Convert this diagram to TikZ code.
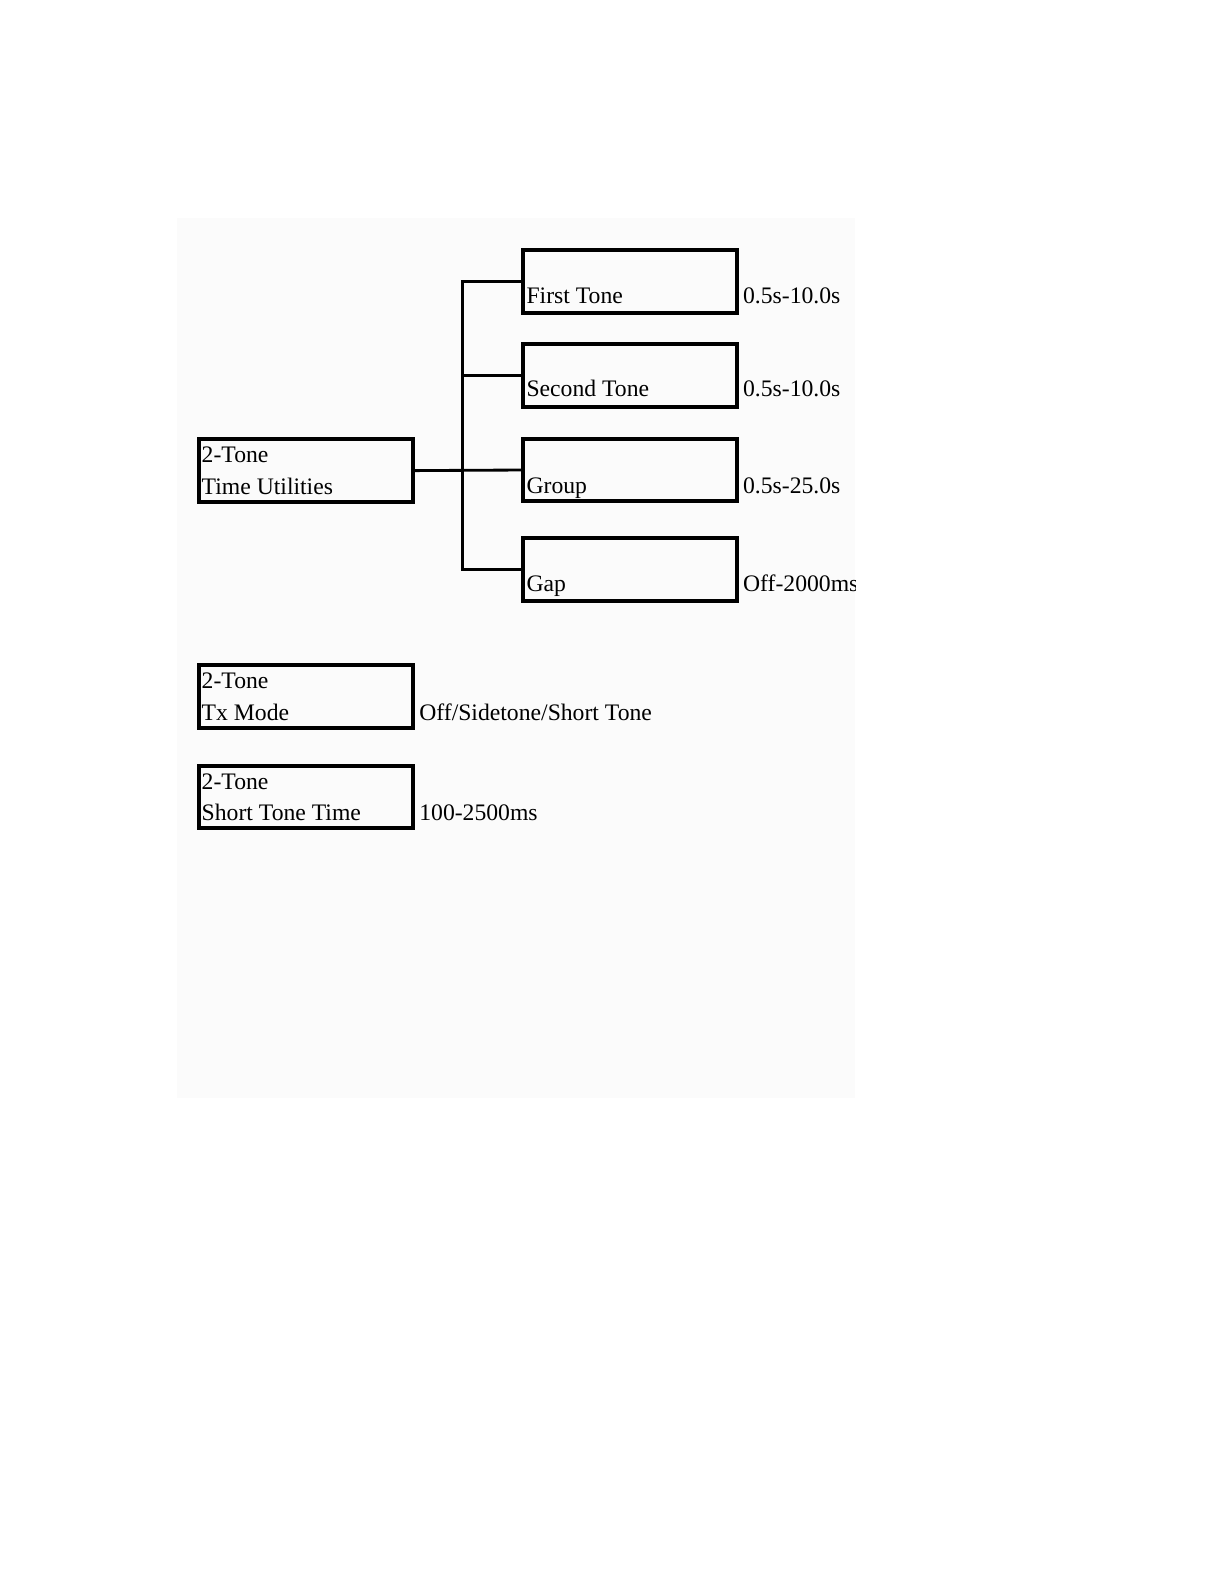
\documentclass[tikz,border=0pt]{standalone}
\usepackage{fontspec}
\setmainfont{Liberation Serif}
\usetikzlibrary{positioning}

\definecolor{panelgray}{HTML}{FBFBFB}

\tikzset{
    menubox/.style={draw, line width=2.4pt, minimum width=128.2pt, minimum height=37.6pt, inner sep=0pt},
    boxtext/.style={anchor=base west, inner sep=0pt, font=\fontsize{14.2}{16}\selectfont},
    branch/.style={line width=1.7pt}
}

\begin{document}
\begin{tikzpicture}[x=0.6pt,y=-0.6pt]
    \useasboundingbox (0,0) rectangle (1225,1585);
    \fill[panelgray] (177,218) rectangle (855,1098);

    \begin{scope}
    \clip (177,218) rectangle (855,1098);

    % Boxes
    \node[menubox] (main)   at (306.1,470.6) {};
    \node[menubox] (first)  at (630,281.3) {};
    \node[menubox] (second) at (630,375.5) {};
    \node[menubox] (group)  at (630,470) {};
    \node[menubox] (gap)    at (630,569.3) {};
    \node[menubox] (txmode) at (306.1,696.3) {};
    \node[menubox] (short)  at (306.1,797) {};

    % Box texts
    \node[boxtext] (mainA) at (201.4,462.5) {2-Tone};
    \node[boxtext] (mainB) at (201.4,494.9) {Time Utilities};
    \node[boxtext] (firstT)  at (526.2,303.6) {First Tone};
    \node[boxtext] (secondT) at (526.2,396.7) {Second Tone};
    \node[boxtext] (groupT)  at (526.2,493.9) {Group};
    \node[boxtext] (gapT)    at (526.2,591) {Gap};
    \node[boxtext] (txA) at (201.4,688.2) {2-Tone};
    \node[boxtext] (txB) at (201.4,720.5) {Tx Mode};
    \node[boxtext] (shA) at (201.4,789.4) {2-Tone};
    \node[boxtext] (shB) at (201.4,820.7) {Short Tone Time};

    % Ranges
    \node[boxtext] (firstR)  at (742.8,303.6) {0.5s-10.0s};
    \node[boxtext] (secondR) at (742.8,396.7) {0.5s-10.0s};
    \node[boxtext] (groupR)  at (742.8,493.9) {0.5s-25.0s};
    \node[boxtext] (gapR)    at (742.8,591) {Off-2000ms};
    \node[boxtext] (txR)     at (419,720.5) {Off/Sidetone/Short Tone};
    \node[boxtext] (shR)     at (419,820.7) {100-2500ms};

    % Tree
    \coordinate (trunk) at (462.5,468.6);
    \draw[branch] (main.east) -- (group.west);
    \draw[branch] (first.west) -- (first.west -| trunk) -- (gap.west -| trunk) -- (gap.west);
    \draw[branch] (second.west -| trunk) -- (second.west);
    \end{scope}
\end{tikzpicture}
\end{document}
